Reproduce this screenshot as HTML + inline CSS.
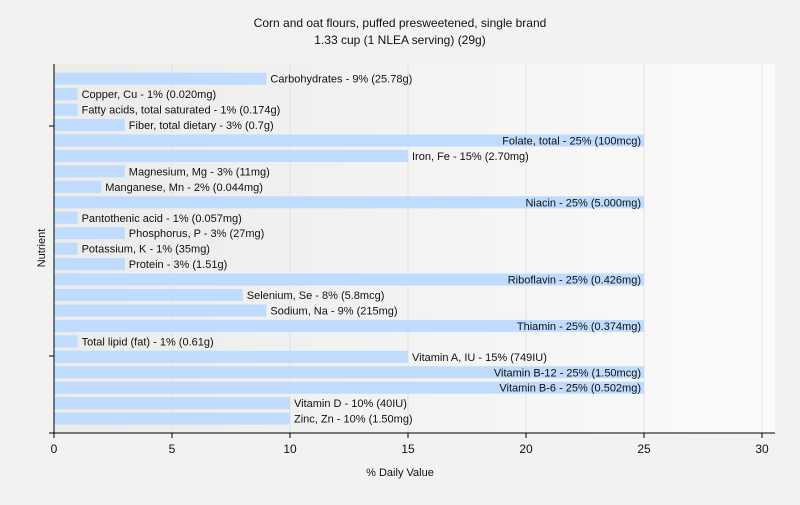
<!DOCTYPE html>
<html><head><meta charset="utf-8"><style>
body{margin:0;background:#f2f2f1;font-family:"Liberation Sans",sans-serif;}
</style></head><body>
<svg width="800" height="500" xmlns="http://www.w3.org/2000/svg">
<defs><linearGradient id="bg" x1="0" x2="1" y1="0" y2="0"><stop offset="0" stop-color="#ebebea"/><stop offset="1" stop-color="#fbfbfb"/></linearGradient></defs>
<text x="400" y="27" text-anchor="middle" font-size="12" fill="#111">Corn and oat flours, puffed presweetened, single brand</text>
<text x="400" y="44" text-anchor="middle" font-size="12" fill="#111">1.33 cup (1 NLEA serving) (29g)</text>
<rect x="54" y="64" width="721" height="369" fill="url(#bg)"/>
<g id="grid"></g><g id="bars"></g><g id="axes"></g>
<text x="400" y="476" text-anchor="middle" font-size="11" fill="#111">% Daily Value</text>
<text transform="translate(45,248) rotate(-90)" text-anchor="middle" font-size="11" fill="#111">Nutrient</text>
</svg>
<script>
const labels=["Carbohydrates - 9% (25.78g)","Copper, Cu - 1% (0.020mg)","Fatty acids, total saturated - 1% (0.174g)","Fiber, total dietary - 3% (0.7g)","Folate, total - 25% (100mcg)","Iron, Fe - 15% (2.70mg)","Magnesium, Mg - 3% (11mg)","Manganese, Mn - 2% (0.044mg)","Niacin - 25% (5.000mg)","Pantothenic acid - 1% (0.057mg)","Phosphorus, P - 3% (27mg)","Potassium, K - 1% (35mg)","Protein - 3% (1.51g)","Riboflavin - 25% (0.426mg)","Selenium, Se - 8% (5.8mcg)","Sodium, Na - 9% (215mg)","Thiamin - 25% (0.374mg)","Total lipid (fat) - 1% (0.61g)","Vitamin A, IU - 15% (749IU)","Vitamin B-12 - 25% (1.50mcg)","Vitamin B-6 - 25% (0.502mg)","Vitamin D - 10% (40IU)","Zinc, Zn - 10% (1.50mg)"];
const values=[9,1,1,3,25,15,3,2,25,1,3,1,3,25,8,9,25,1,15,25,25,10,10];
const ticks=[0,5,10,15,20,25,30];
const NS="http://www.w3.org/2000/svg";
const X=v=>54+v*23.6;
const Y=i=>72.7+i*15.45;
function mk(t,a,p){const e=document.createElementNS(NS,t);for(const k in a)e.setAttribute(k,a[k]);document.getElementById(p).appendChild(e);return e;}
ticks.forEach(t=>{
 if(t>0){const g=mk('line',{x1:X(t),x2:X(t),y1:64,y2:433,stroke:'#e2e2e2'},'grid');
 
 }
 const tk=mk('line',{x1:X(t),x2:X(t),y1:433,y2:438,stroke:'#000'},'axes');
 
 
 const tl=mk('text',{x:X(t),y:453,'text-anchor':'middle','font-size':12,fill:'#111'},'axes');
 tl.textContent=t;
 
 
});
values.forEach((v,i)=>{
 const r=mk('rect',{x:54,y:Y(i),width:X(v)-54,height:12,fill:'#bfdbfd'},'bars');
 
 
 const inside=v>=20;
 const t=mk('text',{x:inside?X(v)-3:X(v)+4,y:Y(i)+10,'text-anchor':inside?'end':'start','font-size':11,fill:'#111'},'bars');
 t.textContent=labels[i];
 
 
});
[[54,64,54,433],[49,433,775,433],[49,126,54,126],[49,356,54,356]].forEach((c,i)=>{
 const l=mk('line',{x1:c[0],y1:c[1],x2:c[2],y2:c[3],stroke:'#000'},'axes');
 
 
});
</script>
</body></html>
